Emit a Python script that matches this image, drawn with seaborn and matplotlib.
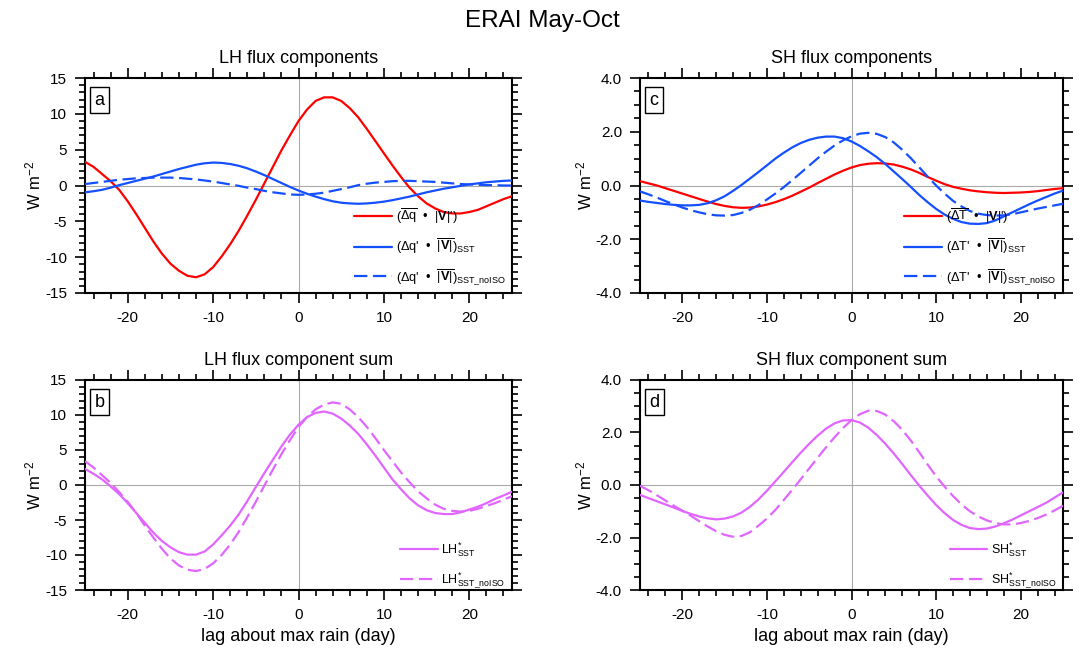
import numpy as np
import pandas as pd
import matplotlib
matplotlib.use('Agg')
import matplotlib.pyplot as plt
import seaborn as sns

# lag axis (days)
lags = np.arange(-25, 26)

# panel a: LH flux components
lh_anom_v = [3.3, 2.6, 1.6, 0.6, -0.6, -2.2, -4.0, -5.9, -7.8, -9.5, -10.9, -11.9, -12.6,
             -12.8, -12.4, -11.4, -9.9, -8.2, -6.3, -4.2, -2.0, 0.3, 2.6, 4.9, 7.0, 9.0,
             10.6, 11.8, 12.3, 12.3, 11.8, 10.8, 9.5, 7.9, 6.2, 4.5, 2.8, 1.2, -0.3,
             -1.5, -2.5, -3.2, -3.7, -3.9, -3.9, -3.7, -3.4, -2.9, -2.4, -1.9, -1.5]
lh_sst = [-0.95, -0.8, -0.6, -0.3, 0.05, 0.35, 0.65, 0.95, 1.25, 1.6, 1.95, 2.3, 2.6,
          2.9, 3.1, 3.2, 3.15, 3.0, 2.75, 2.4, 1.95, 1.45, 0.9, 0.35, -0.2, -0.7,
          -1.15, -1.55, -1.9, -2.2, -2.4, -2.5, -2.55, -2.5, -2.4, -2.25, -2.05, -1.8, -1.55,
          -1.25, -0.95, -0.7, -0.45, -0.25, -0.05, 0.15, 0.3, 0.45, 0.55, 0.65, 0.7]
lh_sst_noiso = [0.2, 0.35, 0.5, 0.65, 0.8, 0.9, 1.0, 1.05, 1.1, 1.1, 1.1, 1.05, 0.95,
                0.85, 0.7, 0.55, 0.35, 0.15, -0.05, -0.3, -0.5, -0.75, -0.95, -1.1, -1.25, -1.3,
                -1.25, -1.15, -1.0, -0.75, -0.5, -0.25, 0.05, 0.25, 0.4, 0.5, 0.6, 0.65, 0.65,
                0.6, 0.55, 0.5, 0.4, 0.3, 0.2, 0.15, 0.1, 0.05, 0.05, 0.0, 0.0]

# panel b: LH component sum
lh_sum = [2.3, 1.6, 0.8, -0.2, -1.3, -2.6, -4.0, -5.4, -6.8, -8.0, -8.9, -9.6, -9.95,
          -9.95, -9.5, -8.5, -7.2, -5.8, -4.2, -2.3, -0.3, 1.7, 3.6, 5.5, 7.2, 8.6,
          9.7, 10.3, 10.5, 10.2, 9.5, 8.5, 7.3, 5.8, 4.2, 2.5, 0.8, -0.6, -1.9,
          -2.9, -3.6, -4.0, -4.15, -4.15, -3.9, -3.5, -3.1, -2.6, -2.0, -1.5, -0.95]
lh_sum_noiso = [3.4, 2.5, 1.4, 0.3, -1.0, -2.4, -4.0, -5.8, -7.5, -9.1, -10.5, -11.5, -12.1,
                -12.3, -12.0, -11.2, -10.0, -8.5, -6.7, -4.6, -2.4, -0.1, 2.2, 4.4, 6.4, 8.3,
                9.7, 10.8, 11.5, 11.8, 11.6, 10.8, 9.7, 8.3, 6.7, 5.0, 3.4, 1.8, 0.4,
                -0.9, -1.9, -2.8, -3.4, -3.7, -3.8, -3.7, -3.4, -3.0, -2.6, -2.1, -1.6]

# panel c: SH flux components
sh_anom_v = [0.16, 0.08, 0.0, -0.1, -0.2, -0.3, -0.4, -0.5, -0.6, -0.69, -0.76, -0.81, -0.83,
             -0.82, -0.78, -0.71, -0.62, -0.51, -0.38, -0.23, -0.08, 0.09, 0.25, 0.41, 0.55, 0.67,
             0.76, 0.81, 0.83, 0.82, 0.78, 0.7, 0.6, 0.47, 0.32, 0.18, 0.05, -0.05, -0.12,
             -0.18, -0.22, -0.25, -0.27, -0.28, -0.27, -0.26, -0.24, -0.21, -0.17, -0.13, -0.1]
sh_sst = [-0.56, -0.61, -0.65, -0.69, -0.72, -0.74, -0.74, -0.72, -0.66, -0.55, -0.4, -0.2, 0.02,
          0.26, 0.5, 0.75, 1.0, 1.22, 1.42, 1.58, 1.7, 1.78, 1.82, 1.82, 1.76, 1.64,
          1.47, 1.27, 1.05, 0.8, 0.52, 0.24, -0.05, -0.35, -0.62, -0.87, -1.08, -1.24, -1.36,
          -1.42, -1.43, -1.4, -1.3, -1.15, -1.0, -0.85, -0.7, -0.56, -0.43, -0.3, -0.19]
sh_sst_noiso = [-0.22, -0.33, -0.45, -0.58, -0.7, -0.82, -0.92, -1.0, -1.07, -1.11, -1.12, -1.1, -1.02,
                -0.9, -0.73, -0.52, -0.3, -0.06, 0.2, 0.47, 0.74, 1.01, 1.26, 1.49, 1.68, 1.83,
                1.93, 1.96, 1.92, 1.8, 1.6, 1.33, 1.02, 0.68, 0.33, 0.0, -0.3, -0.57, -0.78,
                -0.95, -1.05, -1.1, -1.12, -1.11, -1.07, -1.0, -0.93, -0.86, -0.8, -0.74, -0.68]

# panel d: SH component sum
sh_sum = [-0.38, -0.5, -0.62, -0.74, -0.86, -0.99, -1.1, -1.2, -1.27, -1.31, -1.28, -1.2, -1.05,
          -0.83, -0.55, -0.22, 0.14, 0.5, 0.87, 1.23, 1.57, 1.88, 2.15, 2.35, 2.46, 2.47,
          2.38, 2.18, 1.9, 1.57, 1.2, 0.8, 0.38, -0.02, -0.4, -0.76, -1.07, -1.33, -1.52,
          -1.64, -1.68, -1.66, -1.58, -1.46, -1.32, -1.16, -1.0, -0.84, -0.68, -0.48, -0.28]
sh_sum_noiso = [-0.03, -0.2, -0.39, -0.59, -0.79, -0.98, -1.17, -1.38, -1.58, -1.76, -1.9, -1.97, -1.94,
                -1.8, -1.55, -1.28, -0.95, -0.57, -0.18, 0.22, 0.63, 1.04, 1.44, 1.82, 2.17, 2.47,
                2.7, 2.83, 2.82, 2.68, 2.43, 2.1, 1.7, 1.25, 0.78, 0.33, -0.06, -0.42, -0.74,
                -1.0, -1.2, -1.35, -1.45, -1.5, -1.5, -1.45, -1.37, -1.26, -1.13, -0.97, -0.79]

red = '#ff0000'
blue = '#1450ff'
violet = '#e066ff'

sns.set_style('ticks')
plt.rcParams['font.family'] = ['Liberation Sans', 'DejaVu Sans']
plt.rcParams['mathtext.fontset'] = 'custom'
plt.rcParams['mathtext.rm'] = 'Liberation Sans'
plt.rcParams['mathtext.it'] = 'Liberation Sans:italic'
plt.rcParams['mathtext.bf'] = 'Liberation Sans:bold'
plt.rcParams['axes.unicode_minus'] = False
for k in ['text.color', 'axes.labelcolor', 'xtick.color', 'ytick.color']:
    plt.rcParams[k] = 'black'

fig = plt.figure(figsize=(10.84, 6.54), dpi=100)
W, H = 1084, 654


def make_ax(left, right, top, bottom):
    return fig.add_axes([left / W, 1 - bottom / H, (right - left) / W, (bottom - top) / H])


ax_a = make_ax(85, 512, 78, 293)
ax_c = make_ax(640, 1063, 78, 293)
ax_b = make_ax(85, 512, 380, 590)
ax_d = make_ax(640, 1063, 380, 590)

vbar = r'$\overline{|\mathbf{V}|}$'
dot = '  \u2022  '
panels = [
    (ax_a, 'a', 'LH flux components', 15, 5, 1, '{:.0f}', 9.2, 0.85, 0.0,
     [(lh_anom_v, red, '-', r"($\overline{\Delta\mathrm{q}}$" + dot + r"|$\mathbf{V}$|')"),
      (lh_sst, blue, '-', "(\u0394q'" + dot + vbar + r")$_{\mathrm{SST}}$"),
      (lh_sst_noiso, blue, '--', "(\u0394q'" + dot + vbar + r")$_{\mathrm{SST\_noISO}}$")]),
    (ax_b, 'b', 'LH flux component sum', 15, 5, 1, '{:.0f}', 9, 0.95, -0.035,
     [(lh_sum, violet, '-', r'LH$^{*}_{\mathrm{SST}}$'),
      (lh_sum_noiso, violet, '--', r'LH$^{*}_{\mathrm{SST\_noISO}}$')]),
    (ax_c, 'c', 'SH flux components', 4, 2, 0.5, '{:.1f}', 9.2, 0.85, 0.0,
     [(sh_anom_v, red, '-', r"($\overline{\Delta\mathrm{T}}$" + dot + r"|$\mathbf{V}$|')"),
      (sh_sst, blue, '-', "(\u0394T'" + dot + vbar + r")$_{\mathrm{SST}}$"),
      (sh_sst_noiso, blue, '--', "(\u0394T'" + dot + vbar + r")$_{\mathrm{SST\_noISO}}$")]),
    (ax_d, 'd', 'SH flux component sum', 4, 2, 0.5, '{:.1f}', 9, 0.95, -0.035,
     [(sh_sum, violet, '-', r'SH$^{*}_{\mathrm{SST}}$'),
      (sh_sum_noiso, violet, '--', r'SH$^{*}_{\mathrm{SST\_noISO}}$')]),
]

for ax, letter, title, ylim, major, minor, fmt, lfs, lsp, ybot, series in panels:
    ax.axhline(0, color='#aaaaaa', lw=0.8, zorder=1)
    ax.axvline(0, color='#aaaaaa', lw=0.8, zorder=1)
    for vals, col, ls, lab in series:
        df = pd.DataFrame({'lag': lags, 'val': vals})
        sns.lineplot(data=df, x='lag', y='val', ax=ax, color=col, lw=1.6,
                     label=lab, zorder=3)
        if ls == '--':
            ax.lines[-1].set_dashes((6, 2.5))
    ax.set_xlim(-25, 25)
    ax.set_ylim(-ylim, ylim)
    ax.set_xticks([-20, -10, 0, 10, 20])
    ax.set_xticks(np.arange(-24, 25, 2), minor=True)
    yt = np.arange(-ylim, ylim + 0.01, major)
    ax.set_yticks(yt)
    ax.set_yticks(np.arange(-ylim, ylim + 0.01, minor), minor=True)
    ax.set_yticklabels([fmt.format(v) for v in yt])
    ax.tick_params(which='both', direction='out', top=True, right=True, width=1.2,
                   labelsize=11, pad=6)
    ax.tick_params(which='major', length=7)
    ax.tick_params(which='minor', length=4.5)
    for sp in ax.spines.values():
        sp.set_linewidth(1.5)
        sp.set_color('black')
    ax.set_xlabel('')
    ax.set_ylabel(r'W m$^{-2}$', fontsize=12, labelpad=1)
    ax.set_title(title, fontsize=13, pad=11)
    ax.text(0.022, 0.935, letter, transform=ax.transAxes, fontsize=13, ha='left', va='top',
            bbox=dict(boxstyle='square,pad=0.25', fc='white', ec='black', lw=1))
    leg = ax.legend(loc='lower right', bbox_to_anchor=(1.0, ybot), frameon=False,
                    fontsize=lfs, handlelength=3.0, labelspacing=lsp,
                    borderaxespad=0.1, handletextpad=0.3)
    for h, (vals, col, ls, lab) in zip(leg.get_lines(), series):
        if ls == '--':
            h.set_dashes((6, 2.5))

ax_b.set_xlabel('lag about max rain (day)', fontsize=13)
ax_d.set_xlabel('lag about max rain (day)', fontsize=13)

fig.text(0.5, 1 - 21 / H, 'ERAI May-Oct', ha='center', va='center', fontsize=17.5)

fig.savefig('out.png', dpi=100)
